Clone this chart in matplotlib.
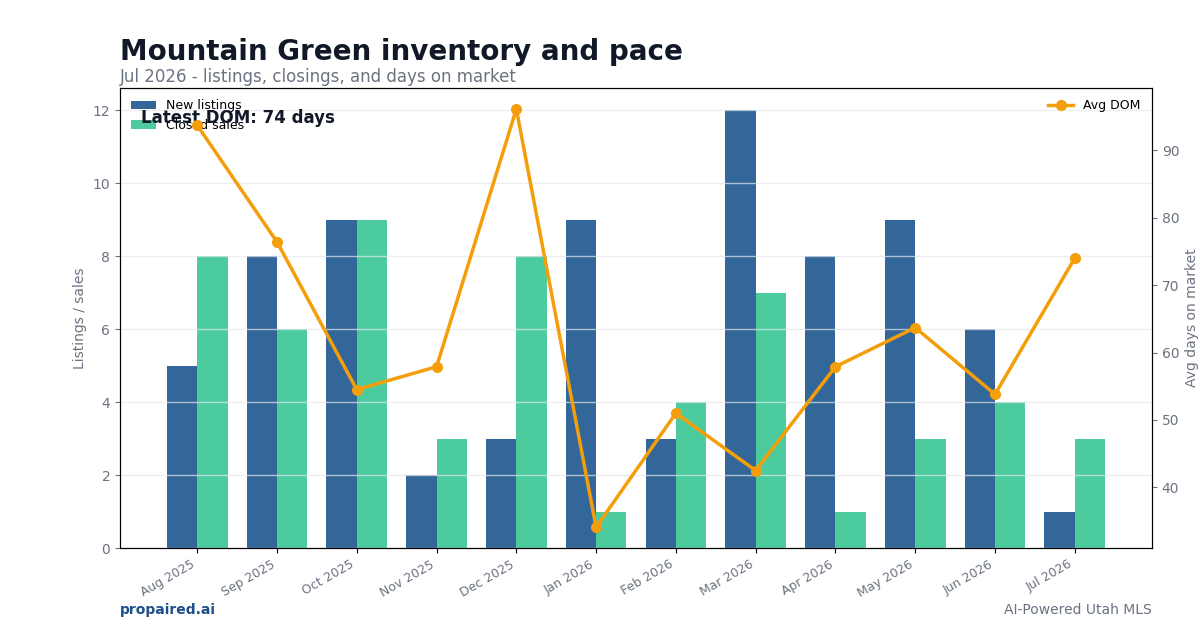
import matplotlib.pyplot as plt
import numpy as np

months = ["Aug 2025", "Sep 2025", "Oct 2025", "Nov 2025", "Dec 2025", "Jan 2026",
          "Feb 2026", "Mar 2026", "Apr 2026", "May 2026", "Jun 2026", "Jul 2026"]
new_listings = [5, 8, 9, 2, 3, 9, 3, 12, 8, 9, 6, 1]
closed_sales = [8, 6, 9, 3, 8, 1, 4, 7, 1, 3, 4, 3]
avg_dom = [93.7, 76.4, 54.5, 57.9, 96.1, 34.1, 51.0, 42.5, 57.9, 63.7, 53.8, 74.0]

GRAY = "#6b7280"
DARK = "#111827"

fig = plt.figure(figsize=(12, 6.3), dpi=100)
ax = fig.add_axes([0.1, 0.13, 0.86, 0.73])
ax2 = ax.twinx()

x = np.arange(len(months))
w = 0.38
ax.bar(x - w / 2, new_listings, w, color="#336699", label="New listings", zorder=2)
ax.bar(x + w / 2, closed_sales, w, color="#4ccb9f", label="Closed sales", zorder=2)
ax.grid(axis="y", color="#e5e7eb", alpha=0.7, linewidth=1, zorder=3)
ax.set_axisbelow(False)

ax2.plot(x, avg_dom, color="#f59e0b", linewidth=2.5, marker="o", markersize=7,
         label="Avg DOM")

ax.set_xticks(x)
ax.set_xticklabels(months, rotation=30, ha="right", fontsize=9, color=GRAY)
ax.tick_params(axis="y", colors=GRAY, labelsize=10)
ax.tick_params(axis="x", colors="black", labelcolor=GRAY)
ax2.tick_params(axis="y", colors=GRAY, labelsize=10)
ax.set_ylabel("Listings / sales", color=GRAY, fontsize=10)
ax2.set_ylabel("Avg days on market", color=GRAY, fontsize=10)

ax.legend(loc="upper left", frameon=False, fontsize=9)
ax2.legend(loc="upper right", frameon=False, fontsize=9)

ax.text(0.02, 0.955, "Latest DOM: %d days" % round(avg_dom[-1]), transform=ax.transAxes,
        fontsize=12, fontweight="bold", color=DARK, va="top", zorder=10)

fig.text(0.1, 0.918, "Mountain Green inventory and pace", fontsize=20,
         fontweight="bold", color=DARK, va="center")
fig.text(0.1, 0.877, "Jul 2026 - listings, closings, and days on market",
         fontsize=12, color=GRAY, va="center")
fig.text(0.1, 0.032, "propaired.ai", fontsize=10, fontweight="bold",
         color="#1e4f8a", va="center")
fig.text(0.96, 0.032, "AI-Powered Utah MLS", fontsize=10, color=GRAY,
         va="center", ha="right")

fig.savefig("out.png", dpi=100)
